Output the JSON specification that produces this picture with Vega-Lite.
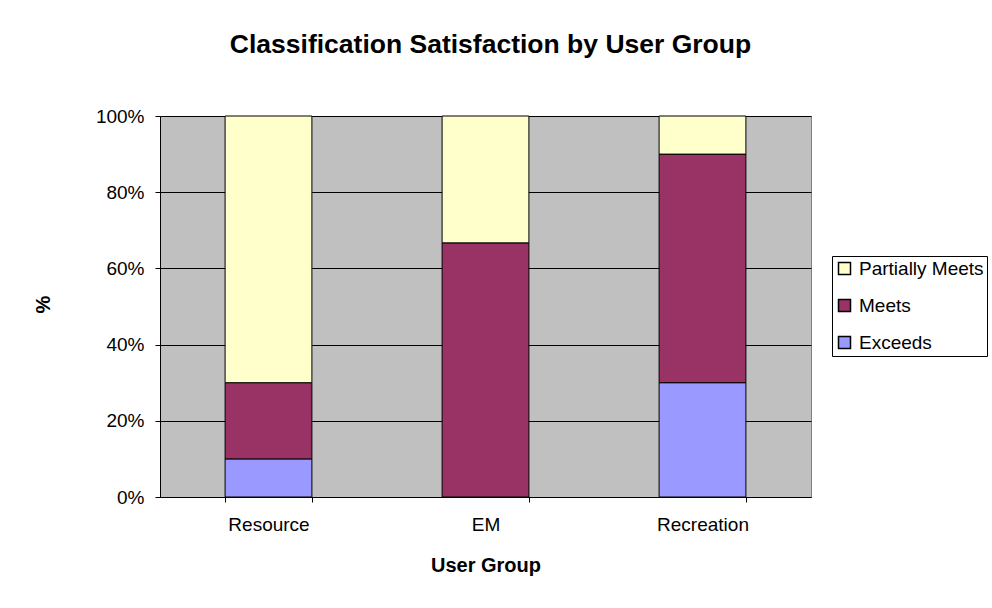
{
  "$schema": "https://vega.github.io/schema/vega-lite/v6.json",
  "width": 651,
  "height": 381,
  "autosize": {"type": "none"},
  "padding": {"left": 160, "top": 116, "right": 181, "bottom": 111},
  "background": "#ffffff",
  "title": {
    "text": "Classification Satisfaction by User Group",
    "font": "Liberation Sans",
    "fontSize": 26.5,
    "fontWeight": "bold",
    "color": "#000000",
    "anchor": "middle",
    "baseline": "alphabetic",
    "offset": 28,
    "dx": 5
  },
  "data": {
    "values": [
      {"group": "Resource", "level": "Exceeds", "value": 0.10, "ord": 1},
      {"group": "Resource", "level": "Meets", "value": 0.20, "ord": 2},
      {"group": "Resource", "level": "Partially Meets", "value": 0.70, "ord": 3},
      {"group": "EM", "level": "Exceeds", "value": 0.0, "ord": 1},
      {"group": "EM", "level": "Meets", "value": 0.667, "ord": 2},
      {"group": "EM", "level": "Partially Meets", "value": 0.333, "ord": 3},
      {"group": "Recreation", "level": "Exceeds", "value": 0.30, "ord": 1},
      {"group": "Recreation", "level": "Meets", "value": 0.60, "ord": 2},
      {"group": "Recreation", "level": "Partially Meets", "value": 0.10, "ord": 3}
    ]
  },
  "mark": {"type": "bar", "stroke": "#000000", "strokeWidth": 1},
  "encoding": {
    "x": {
      "field": "group",
      "type": "nominal",
      "sort": ["Resource", "EM", "Recreation"],
      "scale": {"paddingInner": 0.6, "paddingOuter": 0.3},
      "axis": {
        "title": "User Group",
        "titleFont": "Liberation Sans",
        "titleFontSize": 20,
        "titleFontWeight": "bold",
        "titleColor": "#000000",
        "titlePadding": 21,
        "labelFont": "Liberation Sans",
        "labelFontSize": 19,
        "labelColor": "#000000",
        "labelAngle": 0,
        "labelPadding": 13,
        "tickBand": "extent",
        "tickColor": "#000000",
        "tickSize": 5,
        "domainColor": "#000000",
        "grid": false
      }
    },
    "y": {
      "field": "value",
      "type": "quantitative",
      "stack": "zero",
      "scale": {"domain": [0, 1]},
      "axis": {
        "title": "%",
        "titleFont": "Liberation Sans",
        "titleFontSize": 20,
        "titleFontWeight": "bold",
        "titleColor": "#000000",
        "titleX": -117,
        "titleY": 188,
        "titleAngle": 270,
        "titleAlign": "center",
        "titleBaseline": "middle",
        "values": [0, 0.2, 0.4, 0.6, 0.8, 1],
        "format": ".0%",
        "labelFont": "Liberation Sans",
        "labelFontSize": 19,
        "labelColor": "#000000",
        "labelPadding": 11,
        "tickColor": "#000000",
        "tickSize": 5,
        "domainColor": "#000000",
        "grid": true,
        "gridColor": "#000000",
        "gridWidth": 1
      }
    },
    "color": {
      "field": "level",
      "type": "nominal",
      "scale": {
        "domain": ["Partially Meets", "Meets", "Exceeds"],
        "range": ["#FFFFCC", "#993366", "#9999FF"]
      },
      "legend": {
        "title": null,
        "orient": "none",
        "legendX": 672,
        "legendY": 140,
        "strokeColor": "#000000",
        "fillColor": "#ffffff",
        "padding": 3,
        "symbolType": "square",
        "symbolSize": 144,
        "symbolStrokeColor": "#000000",
        "symbolStrokeWidth": 1.5,
        "labelFont": "Liberation Sans",
        "labelFontSize": 19,
        "labelColor": "#000000",
        "rowPadding": 17,
        "labelOffset": 5
      }
    },
    "order": {"field": "ord", "type": "quantitative"}
  },
  "config": {
    "view": {"fill": "#C0C0C0", "stroke": "#808080"}
  }
}
